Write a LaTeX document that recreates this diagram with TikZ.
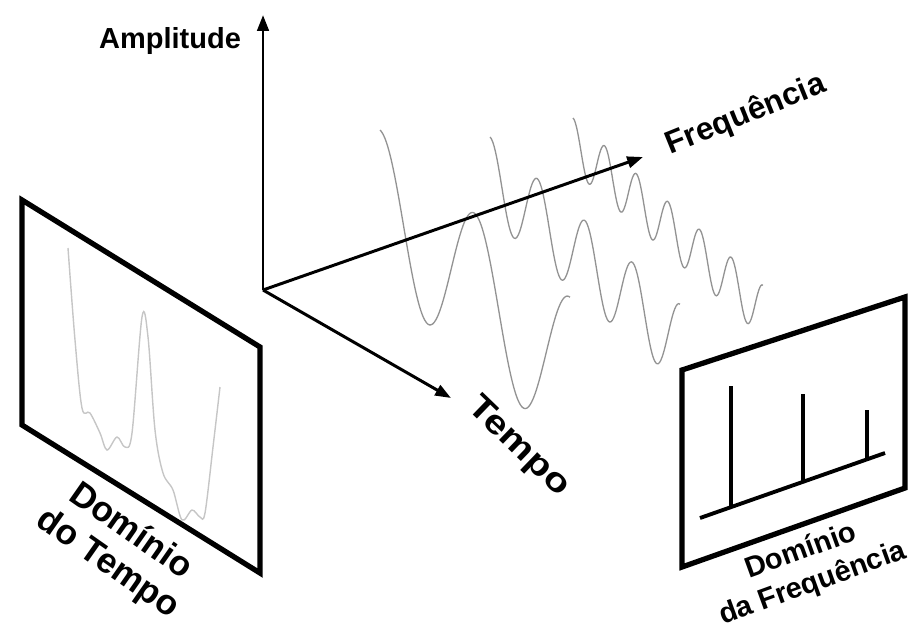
\documentclass[tikz,border=0pt]{standalone}
\usepackage{fontspec}
\setmainfont{Liberation Sans}
\usetikzlibrary{arrows.meta}

\begin{document}
\begin{tikzpicture}[
    x=0.02cm, y=-0.02cm,
    axis/.style={-{Triangle[length=9pt,width=6.5pt]}, line width=1.7pt},
    panel/.style={draw, line width=3pt, line join=miter},
    wave/.style={gray!85, line width=0.75pt},
    faint/.style={gray!45, line width=0.8pt},
    spike/.style={line width=2.2pt},
    lbl/.style={inner sep=0pt, align=center}
]
\useasboundingbox (0,0) rectangle (911,633);

% sinusoids spread along time and frequency
\draw[wave, domain=0:190, samples=120, smooth] plot ({380+\x}, {206+0.88*\x-76*cos(3.78947*\x)});
\draw[wave, domain=0:190, samples=150, smooth] plot ({490+\x}, {177+0.88*\x-40*cos(7.57895*\x)});
\draw[wave, domain=0:190, samples=180, smooth] plot ({573+\x}, {144+0.88*\x-26*cos(11.36842*\x)});

% axes
\coordinate (origin) at (263,290);
\coordinate (amptip) at (263,15);
\coordinate (freqtip) at (643,157);
\coordinate (temptip) at (451,398);
\draw[axis] (origin) -- (amptip);
\draw[axis] (origin) -- (freqtip);
\draw[axis] (origin) -- (temptip);

\node[lbl, font=\bfseries\fontsize{16.5}{18}\selectfont] (amp) at (170,41) {Amplitude};
\node[lbl, font=\bfseries\fontsize{18}{20}\selectfont, rotate=22] (freq) at (746,115) {Frequência};
\node[lbl, font=\bfseries\fontsize{19}{21}\selectfont, rotate=-44, xscale=1.2] (tempo) at (518,447) {Tempo};

% time domain panel
\draw[panel] (22,200) -- (260,347) -- (260,573) -- (22,425) -- cycle;
\draw[faint] plot[smooth, tension=0.55] coordinates {(68,248) (75,340) (82,408) (90,413) (100,433) (107,450)
    (117,437) (125,447) (132,433) (142,317) (148,337) (155,430) (163,473) (173,490) (182,520)
    (192,510) (200,517) (205,513) (213,447) (220,387)};
\node[lbl, font=\bfseries\fontsize{20}{22.5}\selectfont, rotate=-35] (timedom) at (119,548) {Domínio\\do Tempo};

% frequency domain panel
\draw[panel] (682,370) -- (905,297) -- (905,488) -- (682,567) -- cycle;
\draw[spike] (700,518) -- (885,453);
\draw[spike] (731,507) -- (731,386);
\draw[spike] (803,482) -- (803,394);
\draw[spike] (867,460) -- (867,410);
\node[lbl, font=\bfseries\fontsize{16.5}{19.5}\selectfont, rotate=20] (freqdom) at (807,568) {Domínio\\da Frequência};
\end{tikzpicture}
\end{document}
